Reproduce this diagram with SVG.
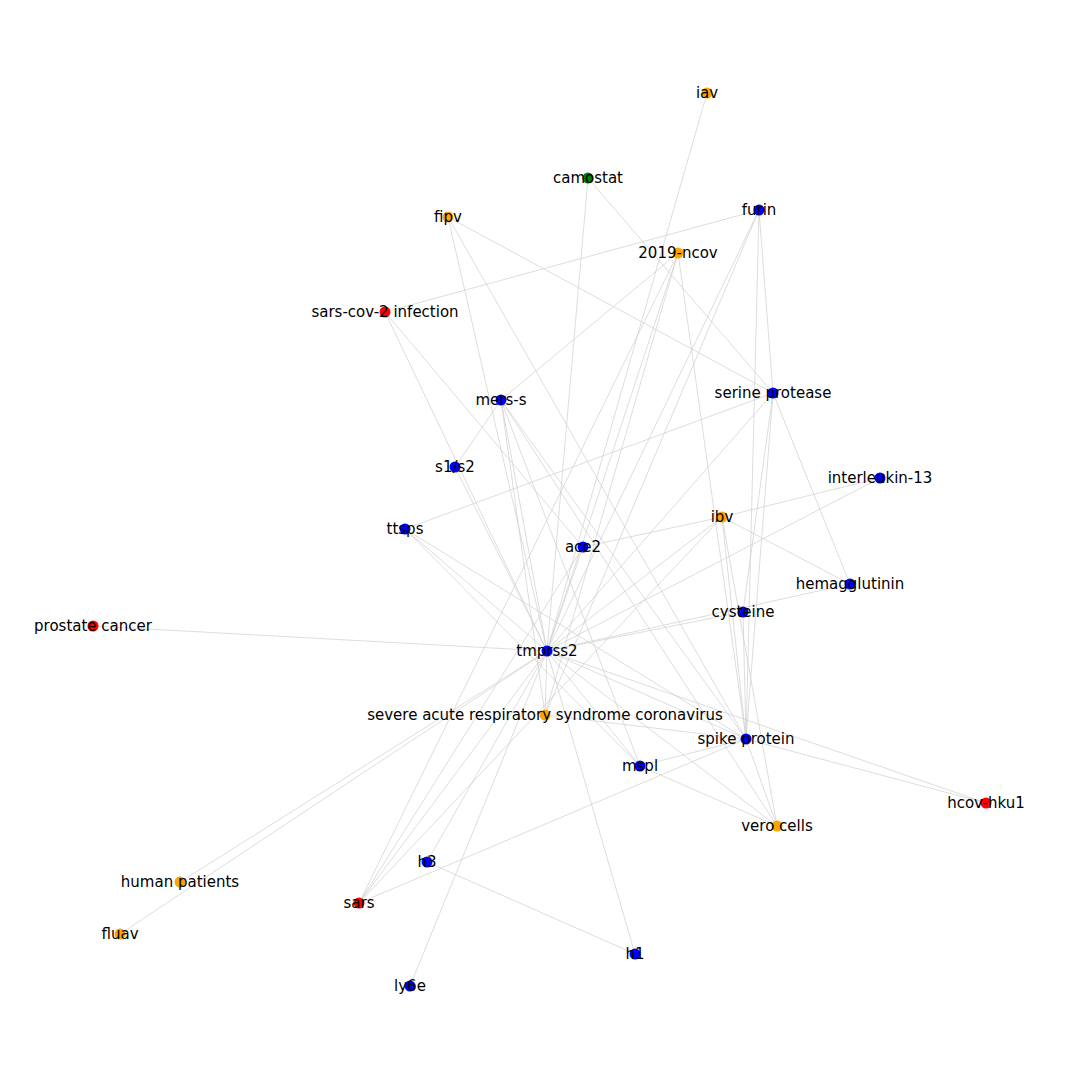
<svg xmlns="http://www.w3.org/2000/svg" width="1080" height="1080" viewBox="0 0 1080 1080">
<style>
.e{stroke:#cfcfcf;stroke-width:0.7;fill:none}
.b{fill:#0000ff}.o{fill:#ffa500}.r{fill:#ff0000}.g{fill:#008000}
text{font-family:"DejaVu Sans",sans-serif;font-size:15px;fill:#000;text-anchor:middle}
</style>
<rect width="1080" height="1080" fill="#fff"/>
<g id="edges">
<line class="e" x1="547" y1="651" x2="707" y2="93"/>
<line class="e" x1="547" y1="651" x2="588" y2="178"/>
<line class="e" x1="547" y1="651" x2="448" y2="217"/>
<line class="e" x1="547" y1="651" x2="385" y2="312"/>
<line class="e" x1="547" y1="651" x2="455" y2="467"/>
<line class="e" x1="547" y1="651" x2="501" y2="400"/>
<line class="e" x1="547" y1="651" x2="405" y2="529"/>
<line class="e" x1="547" y1="651" x2="583" y2="547"/>
<line class="e" x1="547" y1="651" x2="678" y2="253"/>
<line class="e" x1="547" y1="651" x2="759" y2="210"/>
<line class="e" x1="547" y1="651" x2="773" y2="393"/>
<line class="e" x1="547" y1="651" x2="880" y2="478"/>
<line class="e" x1="547" y1="651" x2="722" y2="517"/>
<line class="e" x1="547" y1="651" x2="743" y2="612"/>
<line class="e" x1="547" y1="651" x2="850" y2="584"/>
<line class="e" x1="547" y1="651" x2="93" y2="626"/>
<line class="e" x1="547" y1="651" x2="545" y2="715"/>
<line class="e" x1="547" y1="651" x2="746" y2="739"/>
<line class="e" x1="547" y1="651" x2="640" y2="766"/>
<line class="e" x1="547" y1="651" x2="777" y2="826"/>
<line class="e" x1="547" y1="651" x2="986" y2="803"/>
<line class="e" x1="547" y1="651" x2="635" y2="954"/>
<line class="e" x1="547" y1="651" x2="410" y2="986"/>
<line class="e" x1="547" y1="651" x2="427" y2="862"/>
<line class="e" x1="547" y1="651" x2="359" y2="903"/>
<line class="e" x1="547" y1="651" x2="180" y2="882"/>
<line class="e" x1="547" y1="651" x2="120" y2="934"/>
<line class="e" x1="588" y1="178" x2="773" y2="393"/>
<line class="e" x1="448" y1="217" x2="746" y2="739"/>
<line class="e" x1="448" y1="217" x2="773" y2="393"/>
<line class="e" x1="385" y1="312" x2="759" y2="210"/>
<line class="e" x1="385" y1="312" x2="583" y2="547"/>
<line class="e" x1="759" y1="210" x2="773" y2="393"/>
<line class="e" x1="759" y1="210" x2="746" y2="739"/>
<line class="e" x1="759" y1="210" x2="545" y2="715"/>
<line class="e" x1="501" y1="400" x2="678" y2="253"/>
<line class="e" x1="501" y1="400" x2="455" y2="467"/>
<line class="e" x1="501" y1="400" x2="545" y2="715"/>
<line class="e" x1="501" y1="400" x2="640" y2="766"/>
<line class="e" x1="501" y1="400" x2="746" y2="739"/>
<line class="e" x1="501" y1="400" x2="777" y2="826"/>
<line class="e" x1="678" y1="253" x2="359" y2="903"/>
<line class="e" x1="678" y1="253" x2="545" y2="715"/>
<line class="e" x1="678" y1="253" x2="746" y2="739"/>
<line class="e" x1="405" y1="529" x2="773" y2="393"/>
<line class="e" x1="405" y1="529" x2="746" y2="739"/>
<line class="e" x1="405" y1="529" x2="640" y2="766"/>
<line class="e" x1="773" y1="393" x2="743" y2="612"/>
<line class="e" x1="773" y1="393" x2="746" y2="739"/>
<line class="e" x1="773" y1="393" x2="850" y2="584"/>
<line class="e" x1="880" y1="478" x2="722" y2="517"/>
<line class="e" x1="722" y1="517" x2="583" y2="547"/>
<line class="e" x1="722" y1="517" x2="850" y2="584"/>
<line class="e" x1="722" y1="517" x2="746" y2="739"/>
<line class="e" x1="722" y1="517" x2="777" y2="826"/>
<line class="e" x1="722" y1="517" x2="359" y2="903"/>
<line class="e" x1="743" y1="612" x2="746" y2="739"/>
<line class="e" x1="545" y1="715" x2="746" y2="739"/>
<line class="e" x1="640" y1="766" x2="746" y2="739"/>
<line class="e" x1="640" y1="766" x2="777" y2="826"/>
<line class="e" x1="746" y1="739" x2="777" y2="826"/>
<line class="e" x1="746" y1="739" x2="986" y2="803"/>
<line class="e" x1="359" y1="903" x2="583" y2="547"/>
<line class="e" x1="359" y1="903" x2="746" y2="739"/>
<line class="e" x1="427" y1="862" x2="635" y2="954"/>
</g>
<g id="n-iav"><circle class="o" cx="707" cy="93" r="5.5"/><text x="707" y="98">iav</text></g>
<g id="n-camostat"><circle class="g" cx="588" cy="178" r="5.5"/><text x="588" y="183">camostat</text></g>
<g id="n-fipv"><circle class="o" cx="448" cy="217" r="5.5"/><text x="448" y="222">fipv</text></g>
<g id="n-furin"><circle class="b" cx="759" cy="210" r="5.5"/><text x="759" y="215">furin</text></g>
<g id="n-2019-ncov"><circle class="o" cx="678" cy="253" r="5.5"/><text x="678" y="258">2019-ncov</text></g>
<g id="n-sars-cov-2-infection"><circle class="r" cx="385" cy="312" r="5.5"/><text x="385" y="317">sars-cov-2 infection</text></g>
<g id="n-mers-s"><circle class="b" cx="501" cy="400" r="5.5"/><text x="501" y="405">mers-s</text></g>
<g id="n-serine-protease"><circle class="b" cx="773" cy="393" r="5.5"/><text x="773" y="398">serine protease</text></g>
<g id="n-s1s2"><circle class="b" cx="455" cy="467" r="5.5"/><text x="455" y="472">s1/s2</text></g>
<g id="n-interleukin-13"><circle class="b" cx="880" cy="478" r="5.5"/><text x="880" y="483">interleukin-13</text></g>
<g id="n-ibv"><circle class="o" cx="722" cy="517" r="5.5"/><text x="722" y="522">ibv</text></g>
<g id="n-ttsps"><circle class="b" cx="405" cy="529" r="5.5"/><text x="405" y="534">ttsps</text></g>
<g id="n-ace2"><circle class="b" cx="583" cy="547" r="5.5"/><text x="583" y="552">ace2</text></g>
<g id="n-hemagglutinin"><circle class="b" cx="850" cy="584" r="5.5"/><text x="850" y="589">hemagglutinin</text></g>
<g id="n-cysteine"><circle class="b" cx="743" cy="612" r="5.5"/><text x="743" y="617">cysteine</text></g>
<g id="n-prostate-cancer"><circle class="r" cx="93" cy="626" r="5.5"/><text x="93" y="631">prostate cancer</text></g>
<g id="n-tmprss2"><circle class="b" cx="547" cy="651" r="5.5"/><text x="547" y="656">tmprss2</text></g>
<g id="n-sars-cov"><circle class="o" cx="545" cy="715" r="5.5"/><text x="545" y="720">severe acute respiratory syndrome coronavirus</text></g>
<g id="n-spike-protein"><circle class="b" cx="746" cy="739" r="5.5"/><text x="746" y="744">spike protein</text></g>
<g id="n-mspl"><circle class="b" cx="640" cy="766" r="5.5"/><text x="640" y="771">mspl</text></g>
<g id="n-hcov-hku1"><circle class="r" cx="986" cy="803" r="5.5"/><text x="986" y="808">hcov-hku1</text></g>
<g id="n-vero-cells"><circle class="o" cx="777" cy="826" r="5.5"/><text x="777" y="831">vero cells</text></g>
<g id="n-h3"><circle class="b" cx="427" cy="862" r="5.5"/><text x="427" y="867">h3</text></g>
<g id="n-human-patients"><circle class="o" cx="180" cy="882" r="5.5"/><text x="180" y="887">human patients</text></g>
<g id="n-sars"><circle class="r" cx="359" cy="903" r="5.5"/><text x="359" y="908">sars</text></g>
<g id="n-fluav"><circle class="o" cx="120" cy="934" r="5.5"/><text x="120" y="939">fluav</text></g>
<g id="n-h1"><circle class="b" cx="635" cy="954" r="5.5"/><text x="635" y="959">h1</text></g>
<g id="n-ly6e"><circle class="b" cx="410" cy="986" r="5.5"/><text x="410" y="991">ly6e</text></g>
</svg>
